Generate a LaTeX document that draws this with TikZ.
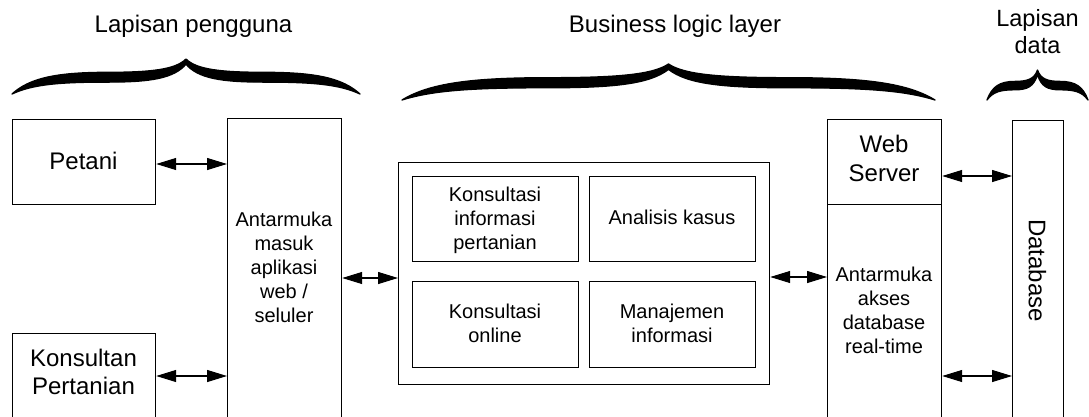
\documentclass[tikz,border=0pt]{standalone}
\usepackage{fontspec}
\setmainfont{Liberation Sans}
\usetikzlibrary{arrows.meta}
\tikzset{
  box/.style={draw=black, line width=1.2pt, anchor=north west, inner sep=0pt, fill=white},
  big/.style={font=\fontsize{24}{28}\selectfont, inner sep=0pt, align=center},
  small/.style={font=\fontsize{20}{24}\selectfont, inner sep=0pt, align=center},
  arr/.style={line width=1.1pt, {Triangle[length=20pt,width=12pt]}-{Triangle[length=20pt,width=12pt]}},
  bracepic/.pic={
    \fill[black, draw=black, line width=1.3pt, line join=round]
      (-1,1) .. controls (-0.9,0.55) and (-0.75,0.38) .. (-0.45,0.38)
      .. controls (-0.2,0.38) and (-0.06,0.3) .. (0,0)
      .. controls (0.06,0.3) and (0.2,0.38) .. (0.45,0.38)
      .. controls (0.75,0.38) and (0.9,0.55) .. (1,1)
      .. controls (0.88,0.72) and (0.72,0.66) .. (0.45,0.66)
      .. controls (0.2,0.66) and (0.07,0.55) .. (0,0.15)
      .. controls (-0.07,0.55) and (-0.2,0.66) .. (-0.45,0.66)
      .. controls (-0.72,0.66) and (-0.88,0.72) .. (-1,1) -- cycle;
  }
}
\begin{document}
\begin{tikzpicture}[x=1pt, y=-1pt]
\useasboundingbox (0,0) rectangle (1089,416);
\clip (0,0) rectangle (1089,416);
\fill[white] (0,0) rectangle (1089,416);

% layer labels
\node[big, anchor=base] (lp) at (193.5,32) {Lapisan pengguna};
\node[big, anchor=base] (bl) at (675,32) {Business logic layer};
\node[big, font=\fontsize{23.5}{26.5}\selectfont] (ld) at (1037.5,31.6) {Lapisan\\data};

% braces
\pic[xscale=174, yscale=35] at (186,59) {bracepic};
\pic[xscale=266.5, yscale=36] at (668.5,64) {bracepic};
\pic[xscale=50.5, yscale=30] at (1037.5,70) {bracepic};

% boxes
\node[box, minimum width=143pt, minimum height=85pt] (petani) at (12,119) {};
\node[box, minimum width=143pt, minimum height=120pt] (konsultan) at (12,333) {};
\node[box, minimum width=114pt, minimum height=320pt] (masuk) at (227,118) {};
\node[box, minimum width=371pt, minimum height=222pt] (outer) at (398,162) {};
\node[box, minimum width=166pt, minimum height=85pt] (k1) at (412,176) {};
\node[box, minimum width=166pt, minimum height=85pt] (k2) at (589,176) {};
\node[box, minimum width=166pt, minimum height=86pt] (k3) at (412,281) {};
\node[box, minimum width=166pt, minimum height=86pt] (k4) at (589,281) {};
\node[box, minimum width=114pt, minimum height=85pt] (web) at (827,119) {};
\node[box, minimum width=114pt, minimum height=240pt] (akses) at (827,204) {};
\node[box, minimum width=51pt, minimum height=320pt] (db) at (1012,120) {};

% texts
\node[big] (tpetani) at (83.5,160.7) {Petani};
\node[big] (tkons) at (83.5,372.3) {Konsultan\\Pertanian};
\node[small] (tmasuk) at (284,267.5) {Antarmuka\\masuk\\aplikasi\\web /\\seluler};
\node[small] (tk1) at (495,220.3) {Konsultasi\\informasi\\pertanian};
\node[small] (tk2) at (672,217.8) {Analisis kasus};
\node[small] (tk3) at (495,322.9) {Konsultasi\\online};
\node[small] (tk4) at (672,322.9) {Manajemen\\informasi};
\node[big, font=\fontsize{24}{28.7}\selectfont] (tweb) at (884,158.7) {Web\\Server};
\node[small] (takses) at (884,310.2) {Antarmuka\\akses\\database\\real-time};
\node[big, rotate=-90] (tdb) at (1037.5,270.5) {Database};

% connectors
\draw[arr] (petani.east |- 0,164) -- (masuk.west |- 0,164);
\draw[arr] (konsultan.east |- 0,376) -- (masuk.west |- 0,376);
\draw[arr] (masuk.east |- 0,278) -- (outer.west |- 0,278);
\draw[arr] (outer.east |- 0,277) -- (akses.west |- 0,277);
\draw[arr] (web.east |- 0,176) -- (db.west |- 0,176);
\draw[arr] (akses.east |- 0,376) -- (db.west |- 0,376);
\end{tikzpicture}
\end{document}
